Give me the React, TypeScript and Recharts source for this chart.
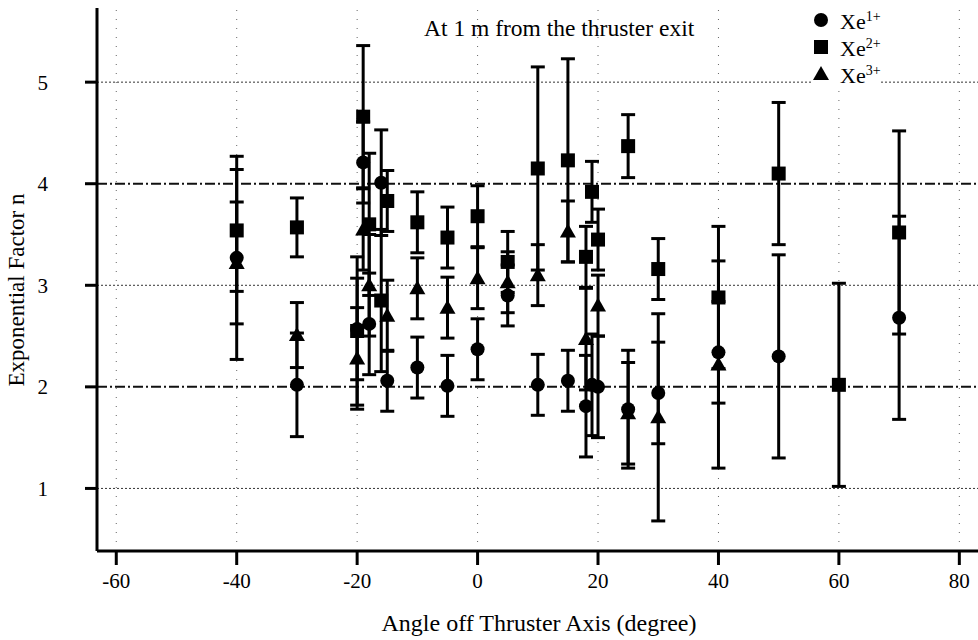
import React from "react";
import {
  ScatterChart,
  Scatter,
  XAxis,
  YAxis,
  ErrorBar,
  ReferenceLine,
} from "recharts";

// Xe1+ (circles)
const xe1Angles = [-40, -30, -20, -19, -18, -16, -15, -10, -5, 0, 5, 10, 15, 18, 19, 20, 25, 30, 40, 50, 70];
const xe1Values = [3.27, 2.02, 2.57, 4.21, 2.62, 4.01, 2.06, 2.19, 2.01, 2.37, 2.9, 2.02, 2.06, 1.81, 2.02, 2.0, 1.78, 1.94, 2.34, 2.3, 2.68];
const xe1Errors = [1.0, 0.51, 0.5, 0.4, 0.5, 0.52, 0.3, 0.3, 0.3, 0.3, 0.3, 0.3, 0.3, 0.5, 0.5, 0.5, 0.58, 0.5, 0.5, 1.0, 1.0];

// Xe2+ (squares)
const xe2Angles = [-40, -30, -20, -19, -18, -16, -15, -10, -5, 0, 5, 10, 15, 18, 19, 20, 25, 30, 40, 50, 60, 70];
const xe2Values = [3.54, 3.57, 2.55, 4.66, 3.6, 2.85, 3.83, 3.62, 3.47, 3.68, 3.23, 4.15, 4.23, 3.28, 3.92, 3.45, 4.37, 3.16, 2.88, 4.1, 2.02, 3.52];
const xe2Errors = [0.6, 0.29, 0.73, 0.7, 0.7, 0.7, 0.3, 0.3, 0.3, 0.3, 0.3, 1.0, 1.0, 0.3, 0.3, 0.3, 0.31, 0.3, 0.7, 0.7, 1.0, 1.0];

// Xe3+ (triangles)
const xe3Angles = [-40, -30, -20, -19, -18, -15, -10, -5, 0, 5, 10, 15, 18, 20, 25, 30, 40];
const xe3Values = [3.22, 2.51, 2.28, 3.55, 3.0, 2.7, 2.97, 2.78, 3.07, 3.03, 3.1, 3.53, 2.47, 2.8, 1.74, 1.7, 2.22];
const xe3Errors = [0.6, 0.32, 0.5, 0.4, 0.5, 0.35, 0.3, 0.3, 0.3, 0.3, 0.3, 0.3, 0.5, 0.3, 0.5, 1.02, 1.02];

const xTicks = [-60, -40, -20, 0, 20, 40, 60, 80];
const yTicks = [1, 2, 3, 4, 5];
const dashedLevels = [2, 4];
const dottedLevels = [1, 3, 5];

const toRows = (xs: number[], ys: number[], es: number[]) =>
  xs.map((x, i) => ({ x, y: ys[i], err: es[i] }));

const xe1Data = toRows(xe1Angles, xe1Values, xe1Errors);
const xe2Data = toRows(xe2Angles, xe2Values, xe2Errors);
const xe3Data = toRows(xe3Angles, xe3Values, xe3Errors);

const FONT = '"Liberation Serif", "Times New Roman", serif';

const CircleMark = (p: any) => <circle cx={p.cx} cy={p.cy} r={7} fill="#000" />;
const SquareMark = (p: any) => (
  <rect x={p.cx - 7} y={p.cy - 7} width={14} height={14} fill="#000" />
);
const TriangleMark = (p: any) => (
  <polygon
    points={`${p.cx},${p.cy - 8} ${p.cx + 8},${p.cy + 6} ${p.cx - 8},${p.cy + 6}`}
    fill="#000"
  />
);

const tickStyle = { fill: "#000", fontSize: 21, fontFamily: FONT };

function LegendRow({ mark, sup }: { mark: React.ReactNode; sup: string }) {
  return (
    <div style={{ display: "flex", alignItems: "center", height: 27 }}>
      <svg width={20} height={20} style={{ marginRight: 9 }}>
        {mark}
      </svg>
      <span style={{ fontSize: 22, lineHeight: "27px" }}>
        Xe<sup style={{ fontSize: 14 }}>{sup}</sup>
      </span>
    </div>
  );
}

export default function App() {
  return (
    <div
      style={{
        position: "absolute",
        left: 0,
        top: 0,
        width: 978,
        height: 640,
        background: "#fff",
        fontFamily: FONT,
      }}
    >
      <ScatterChart
        width={978}
        height={640}
        margin={{ top: 8, right: 0, bottom: 0, left: 0 }}
      >
        <XAxis
          type="number"
          dataKey="x"
          domain={[-63.2, 83.1]}
          ticks={xTicks}
          allowDataOverflow
          height={89}
          tickSize={14}
          tickMargin={8}
          tick={tickStyle}
          axisLine={{ stroke: "#000", strokeWidth: 3 }}
          tickLine={{ stroke: "#000", strokeWidth: 3 }}
          label={{
            content: () => (
              <text
                x={539}
                y={625}
                textAnchor="middle"
                dominantBaseline="middle"
                fill="#000"
                fontSize={24}
                fontFamily={FONT}
              >
                Angle off Thruster Axis (degree)
              </text>
            ),
          }}
        />
        <YAxis
          type="number"
          dataKey="y"
          domain={[0.384, 5.73]}
          ticks={yTicks}
          allowDataOverflow
          width={97}
          tickSize={12}
          tickMargin={37}
          tick={tickStyle}
          axisLine={{ stroke: "#000", strokeWidth: 3 }}
          tickLine={{ stroke: "#000", strokeWidth: 3 }}
          label={{
            content: () => (
              <text
                x={19}
                y={290}
                transform="rotate(-90 19 290)"
                textAnchor="middle"
                dominantBaseline="middle"
                fill="#000"
                fontSize={23}
                fontFamily={FONT}
              >
                Exponential Factor n
              </text>
            ),
          }}
        />
        {xTicks.map((t) => (
          <ReferenceLine
            key={"vx" + t}
            x={t}
            stroke="#666"
            strokeWidth={1}
            strokeDasharray="1 8"
          />
        ))}
        {dottedLevels.map((v) => (
          <ReferenceLine
            key={"dy" + v}
            y={v}
            stroke="#333"
            strokeWidth={1}
            strokeDasharray="2 2"
          />
        ))}
        {dashedLevels.map((v) => (
          <ReferenceLine
            key={"hy" + v}
            y={v}
            stroke="#111"
            strokeWidth={2}
            strokeDasharray="10 3 2 3"
          />
        ))}
        <Scatter data={xe1Data} shape={CircleMark} isAnimationActive={false}>
          <ErrorBar dataKey="err" direction="y" width={7} strokeWidth={3} stroke="#000" />
        </Scatter>
        <Scatter data={xe2Data} shape={SquareMark} isAnimationActive={false}>
          <ErrorBar dataKey="err" direction="y" width={7} strokeWidth={3} stroke="#000" />
        </Scatter>
        <Scatter data={xe3Data} shape={TriangleMark} isAnimationActive={false}>
          <ErrorBar dataKey="err" direction="y" width={7} strokeWidth={3} stroke="#000" />
        </Scatter>
      </ScatterChart>

      <div
        style={{
          position: "absolute",
          left: 424,
          top: 14,
          fontSize: 23.5,
          lineHeight: "28px",
          whiteSpace: "nowrap",
        }}
      >
        At 1 m from the thruster exit
      </div>

      <div style={{ position: "absolute", left: 811, top: 6, background: "#fff" }}>
        <LegendRow mark={<circle cx={10} cy={10} r={7} fill="#000" />} sup="1+" />
        <LegendRow mark={<rect x={3} y={3} width={14} height={14} fill="#000" />} sup="2+" />
        <LegendRow mark={<polygon points="10,2 18,16 2,16" fill="#000" />} sup="3+" />
      </div>
    </div>
  );
}
